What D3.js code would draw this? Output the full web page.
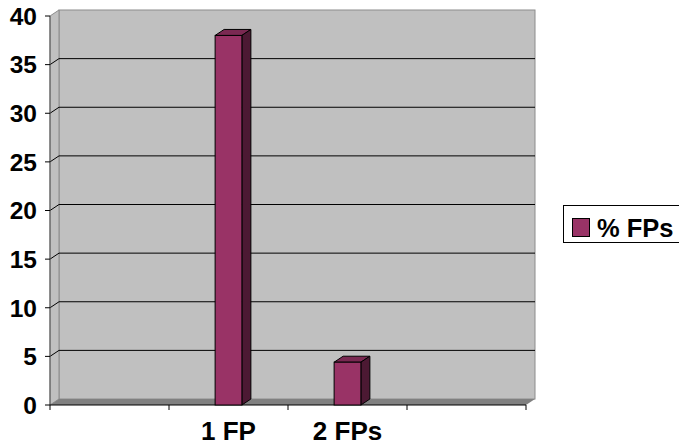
<!DOCTYPE html>
<html>
<head>
<meta charset="utf-8">
<script src="https://cdn.jsdelivr.net/npm/d3@7"></script>
<style>
  body { margin: 0; background: #fff; }
  svg text { font-family: "Liberation Sans", Arial, sans-serif; font-weight: bold; fill: #000; }
</style>
</head>
<body>
<div id="viz"></div>
<script>
(function () {
  'use strict';

  // chart data
  var categories = ["", "1 FP", "2 FPs", ""];
  var values = [0, 38, 4.4, 0];
  var yTicks = [0, 5, 10, 15, 20, 25, 30, 35, 40];
  var seriesName = "% FPs";

  var W = 679, H = 446;
  var left = 50, right = 526, bottom = 405, top = 16;
  var dx = 9, dy = -6; // 3d depth

  var svg = d3.select("#viz").append("svg")
    .attr("width", W).attr("height", H);

  var y = d3.scaleLinear().domain([0, 40]).range([bottom, top]);
  var x = d3.scaleBand().domain(d3.range(categories.length)).range([left, right]);
  var bw = x.bandwidth() * 0.225;

  function pts(a) { return a.map(function (p) { return p.join(","); }).join(" "); }

  // walls
  svg.append("rect")
    .attr("x", left + dx).attr("y", top + dy)
    .attr("width", right - left).attr("height", bottom - top)
    .attr("fill", "#c0c0c0").attr("stroke", "#8c8c8c");
  svg.append("polygon")
    .attr("points", pts([[left, top], [left + dx, top + dy], [left + dx, bottom + dy], [left, bottom]]))
    .attr("fill", "#c0c0c0").attr("stroke", "#8c8c8c");
  svg.append("polygon")
    .attr("points", pts([[left, bottom], [left + dx, bottom + dy], [right + dx, bottom + dy], [right, bottom]]))
    .attr("fill", "#808080");

  // gridlines
  svg.selectAll(".grid")
    .data(yTicks.filter(function (t) { return t > 0 && t < 40; }))
    .enter().append("polyline")
    .attr("fill", "none").attr("stroke", "#000").attr("stroke-width", 1)
    .attr("points", function (t) {
      return pts([[left, y(t)], [left + dx, y(t) + dy], [right + dx, y(t) + dy]]);
    });

  // y axis
  svg.append("line")
    .attr("x1", left).attr("x2", left).attr("y1", top).attr("y2", bottom)
    .attr("stroke", "#555");
  svg.selectAll(".ytick")
    .data(yTicks).enter().append("line")
    .attr("x1", left - 5).attr("x2", left)
    .attr("y1", function (t) { return y(t); }).attr("y2", function (t) { return y(t); })
    .attr("stroke", "#000");
  svg.selectAll(".ylab")
    .data(yTicks).enter().append("text")
    .attr("x", 37).attr("y", function (t) { return y(t); })
    .attr("dy", "0.36em")
    .attr("text-anchor", "end")
    .attr("font-size", 24.5)
    .text(function (t) { return t; });

  // x axis
  svg.append("line")
    .attr("x1", left).attr("x2", right).attr("y1", bottom).attr("y2", bottom)
    .attr("stroke", "#000");
  svg.selectAll(".xtick")
    .data(d3.range(categories.length + 1)).enter().append("line")
    .attr("x1", function (i) { return left + i * x.step(); })
    .attr("x2", function (i) { return left + i * x.step(); })
    .attr("y1", bottom).attr("y2", bottom + 5)
    .attr("stroke", "#000");
  svg.selectAll(".xlab")
    .data(categories).enter().append("text")
    .attr("x", function (d, i) { return x(i) + x.bandwidth() / 2; })
    .attr("y", 440)
    .attr("text-anchor", "middle")
    .attr("font-size", 26)
    .text(function (d) { return d; });

  // bars
  var bars = svg.selectAll(".bar")
    .data(values.map(function (v, i) { return { v: v, i: i }; }).filter(function (d) { return d.v > 0; }))
    .enter().append("g");
  bars.append("polygon")
    .attr("points", function (d) {
      var x0 = x(d.i) + (x.bandwidth() - bw) / 2, yt = y(d.v);
      return pts([[x0, yt], [x0 + dx, yt + dy], [x0 + bw + dx, yt + dy], [x0 + bw, yt]]);
    })
    .attr("fill", "#7a2952").attr("stroke", "#000");
  bars.append("polygon")
    .attr("points", function (d) {
      var x1 = x(d.i) + (x.bandwidth() + bw) / 2, yt = y(d.v);
      return pts([[x1, yt], [x1 + dx, yt + dy], [x1 + dx, bottom + dy], [x1, bottom]]);
    })
    .attr("fill", "#4c1933").attr("stroke", "#000");
  bars.append("rect")
    .attr("x", function (d) { return x(d.i) + (x.bandwidth() - bw) / 2; })
    .attr("y", function (d) { return y(d.v); })
    .attr("width", bw)
    .attr("height", function (d) { return bottom - y(d.v); })
    .attr("fill", "#993366").attr("stroke", "#000");

  // legend
  var lg = svg.append("g");
  lg.append("rect")
    .attr("x", 563.5).attr("y", 205.5).attr("width", 130).attr("height", 37)
    .attr("fill", "#fff").attr("stroke", "#000");
  lg.append("rect")
    .attr("x", 572.5).attr("y", 218.5).attr("width", 17).attr("height", 18)
    .attr("fill", "#993366").attr("stroke", "#000");
  lg.append("text")
    .attr("x", 597).attr("y", 237)
    .attr("font-size", 25.5)
    .text(seriesName);
})();
</script>
</body>
</html>
